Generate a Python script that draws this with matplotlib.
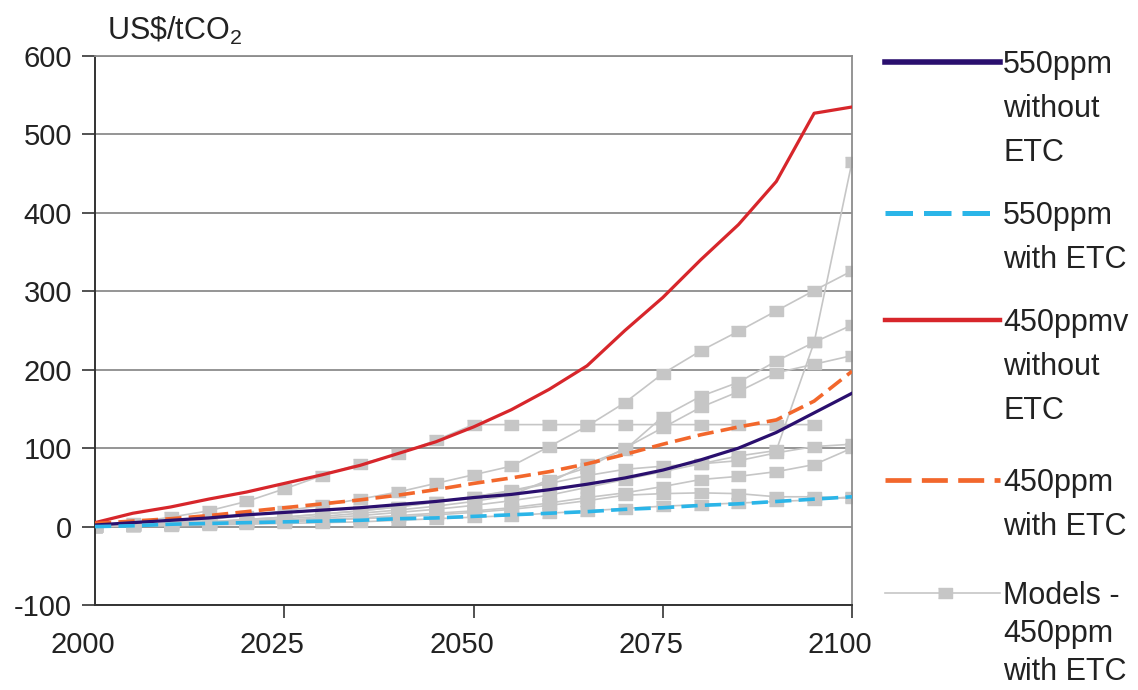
import matplotlib
matplotlib.use('Agg')
import matplotlib.pyplot as plt
import matplotlib.transforms as mtransforms
from matplotlib.lines import Line2D
import numpy as np

plt.rcParams['font.family'] = ['Liberation Sans', 'DejaVu Sans']
plt.rcParams['mathtext.fontset'] = 'custom'
plt.rcParams['mathtext.rm'] = 'Liberation Sans'
plt.rcParams['axes.unicode_minus'] = False

# data (US$/tCO2), 5-year steps
years = list(range(2000, 2101, 5))

p550_no_etc = [2, 5, 8, 11, 15, 18, 21, 24, 28, 32, 37, 41, 47, 54, 62, 72, 85, 100, 120, 145, 170]
p550_etc = [0, 1, 3, 4, 5, 6, 7, 8, 10, 11, 13, 15, 17, 19, 22, 24, 27, 29, 32, 35, 38]
p450_no_etc = [5, 17, 25, 35, 44, 55, 66, 78, 93, 108, 127, 149, 175, 205, 250, 292, 340, 385, 440, 527, 535]
p450_etc = [4, 7, 10, 14, 19, 24, 29, 34, 40, 47, 55, 62, 70, 80, 92, 105, 117, 127, 136, 160, 198]

nan = np.nan
models = [
    [0, 2, 5, 9, 14, 20, 27, 35, 44, 55, 66, 77, 102, 128, 158, 195, 224, 249, 275, 301, 326],
    [0, 2, 4, 6, 9, 12, 16, 20, 25, 31, 38, 46, 56, 80, 98, 140, 166, 184, 211, 235, 257],
    [0, 1, 3, 5, 7, 10, 13, 17, 21, 26, 32, 40, 60, 75, 100, 126, 152, 172, 196, 207, 218],
    [0, 5, 12, 20, 32, 48, 65, 80, 92, 110, 130, 130, 130, 130, 130, 130, 130, 130, 130, 130, nan],
    [0, 1, 2, 4, 6, 8, 11, 14, 18, 22, 27, 33, 40, 50, 60, 70, 80, 90, 97, 235, 465],
    [0, 2, 4, 6, 9, 12, 16, 20, 25, 31, 38, 45, 55, 65, 73, 77, 80, 84, 94, 102, 105],
    [0, 1, 2, 3, 5, 7, 9, 11, 14, 17, 20, 24, 30, 37, 43, 51, 60, 64, 70, 79, 100],
    [0, 1, 2, 3, 4, 6, 8, 10, 12, 15, 18, 22, 27, 33, 40, 42, 43, 42, 38, 38, 36],
    [0, 1, 1, 2, 3, 4, 5, 6, 8, 10, 12, 14, 17, 20, 23, 26, 28, 30, 32, 34, 38],
]

c_purple = '#2a0f6e'
c_cyan = '#2bb5e8'
c_red = '#d7262b'
c_orange = '#f2672c'
c_grey = '#c6c6c6'
rect = [(-1.5, -1), (1.5, -1), (1.5, 1), (-1.5, 1)]

W, H = 1138, 690
fig = plt.figure(figsize=(W / 100, H / 100), dpi=100)
ax = fig.add_axes([95 / W, 1 - 605 / H, 757 / W, 549 / H])

for m in models:
    ax.plot(years, m, color=c_grey, lw=1.2, marker=rect, markersize=10,
            markerfacecolor=c_grey, markeredgecolor=c_grey, zorder=2)

ax.plot(years, p450_no_etc, color=c_red, lw=2.3, zorder=4)
ax.plot(years, p450_etc, color=c_orange, lw=2.6, dashes=(4.5, 2), zorder=4)
ax.plot(years, p550_no_etc, color=c_purple, lw=2.3, zorder=4)
ax.plot(years, p550_etc, color=c_cyan, lw=2.6, dashes=(4.5, 2), zorder=4)

ax.set_xlim(2000, 2100)
ax.set_ylim(-100, 600)
ax.set_xticks([2000, 2025, 2050, 2075, 2100])
ax.set_yticks(range(-100, 601, 100))
ax.yaxis.grid(True, color='#8c8c8c', lw=1.3)
ax.set_axisbelow(True)

for s in ['top', 'right']:
    ax.spines[s].set_color('#8c8c8c')
    ax.spines[s].set_linewidth(1.3)
for s in ['left', 'bottom']:
    ax.spines[s].set_color('#333333')
    ax.spines[s].set_linewidth(1.4)

ax.tick_params(direction='out', length=9.5, width=1.2, color='#333333',
               labelsize=21, labelcolor='#222222')
ax.tick_params(axis='y', pad=7)
ax.tick_params(axis='x', pad=9)
ax.xaxis.get_major_ticks()[0].tick1line.set_visible(False)
shift = mtransforms.ScaledTranslation(-0.12, 0, fig.dpi_scale_trans)
for lab in ax.get_xticklabels():
    lab.set_transform(lab.get_transform() + shift)

fig.text(107 / W, 1 - 40 / H, r'US\$/tCO$_\mathregular{2}$', fontsize=22,
         color='#222222', va='baseline', ha='left')

# legend, drawn by hand so the handle sits on the first text line
entries = [
    (62, 44, dict(color=c_purple, lw=4), ['550ppm', 'without', 'ETC']),
    (213, 44, dict(color=c_cyan, lw=3.6, dashes=(5.5, 2.2)), ['550ppm', 'with ETC']),
    (320, 44, dict(color=c_red, lw=3.2), ['450ppmv', 'without', 'ETC']),
    (480, 44, dict(color=c_orange, lw=3.4, dashes=(5.5, 2.2)), ['450ppm', 'with ETC']),
    (593, 38, dict(color=c_grey, lw=1.2), ['Models -', '450ppm', 'with ETC']),
]
for y, gap, style, lines in entries:
    fig.add_artist(Line2D([885 / W, 1000 / W], [1 - y / H, 1 - y / H], **style))
    for i, t in enumerate(lines):
        fig.text(1003 / W, 1 - (y + 11 + gap * i) / H, t, fontsize=22,
                 color='#222222', va='baseline', ha='left')
fig.add_artist(Line2D([945 / W], [1 - 593 / H], marker=rect, markersize=10,
                      color=c_grey, linestyle='none'))

fig.savefig('out.png', dpi=100)
